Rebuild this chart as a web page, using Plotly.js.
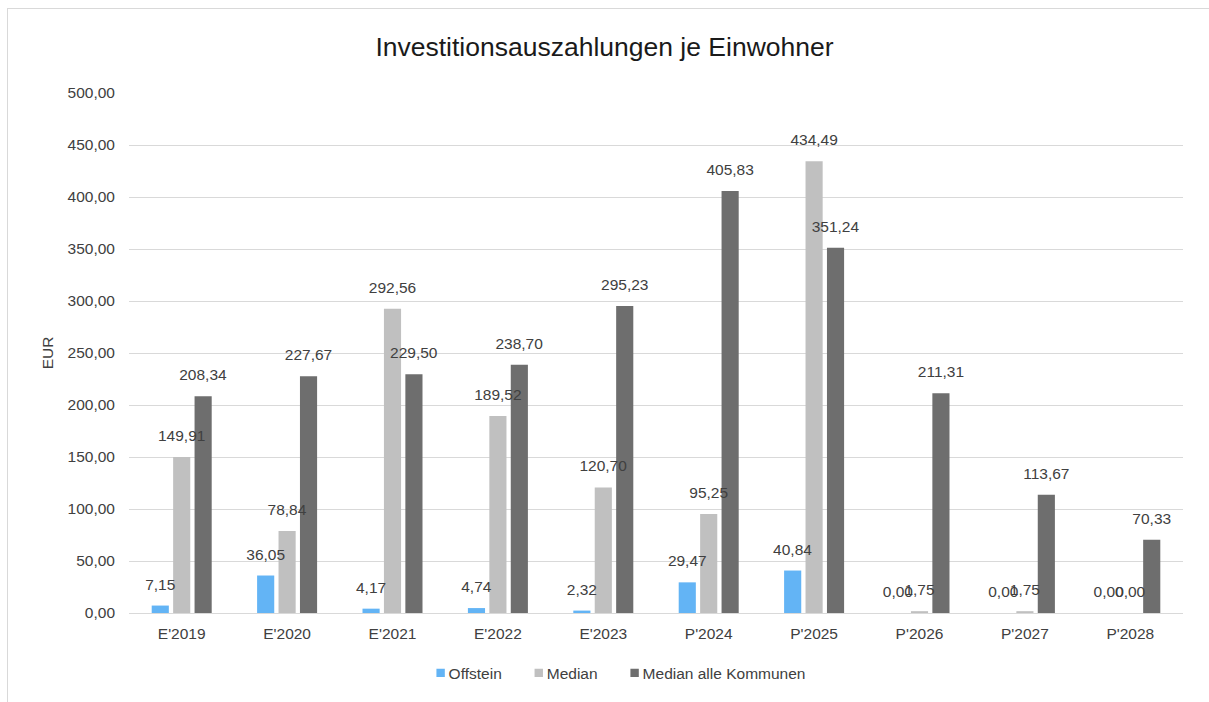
<!DOCTYPE html>
<html>
<head>
<meta charset="utf-8">
<script src="https://cdn.plot.ly/plotly-3.0.1.min.js"></script>
<style>
body { margin: 0; background: #fff; }
#graph { width: 1209px; height: 702px; }
#frame { position: absolute; left: 7px; top: 8px; width: 1300px; height: 800px; border: 1px solid #d9d9d9; pointer-events: none; }
</style>
</head>
<body>
<div id="graph"></div>
<div id="frame"></div>
<script>
var years = ["E'2019", "E'2020", "E'2021", "E'2022", "E'2023", "P'2024", "P'2025", "P'2026", "P'2027", "P'2028"];
var offstein = [7.15, 36.05, 4.17, 4.74, 2.32, 29.47, 40.84, 0.00, 0.00, 0.00];
var median = [149.91, 78.84, 292.56, 189.52, 120.70, 95.25, 434.49, 1.75, 1.75, 0.00];
var medianAlle = [208.34, 227.67, 229.50, 238.70, 295.23, 405.83, 351.24, 211.31, 113.67, 70.33];

var fontFam = 'Liberation Sans, Arial, sans-serif';
var txtColor = '#404040';

function bar(name, y, color) {
    return {
        type: 'bar',
        name: name,
        x: years,
        y: y,
        marker: {color: color},
        texttemplate: '%{y:.2f}',
        textposition: 'outside',
        constraintext: 'none',
        outsidetextfont: {family: fontFam, size: 15.5, color: txtColor},
        cliponaxis: false,
        hoverinfo: 'none'
    };
}

var data = [
    bar('Offstein', offstein, '#63b4f5'),
    bar('Median', median, '#c0c0c0'),
    bar('Median alle Kommunen', medianAlle, '#6e6e6e')
];

var layout = {
    width: 1209,
    height: 702,
    separators: ',.',
    font: {family: fontFam, size: 15.5, color: txtColor},
    paper_bgcolor: '#fff',
    plot_bgcolor: '#fff',
    margin: {l: 129, r: 26, t: 93, b: 85},
    title: {
        text: 'Investitionsauszahlungen je Einwohner',
        font: {size: 26.5, color: '#1a1a1a'},
        x: 0.5, xanchor: 'center',
        y: 1 - 47 / 702, yref: 'container', yanchor: 'middle'
    },
    barmode: 'group',
    bargap: 0.39,
    bargroupgap: 0.2,
    showlegend: true,
    legend: {
        orientation: 'h',
        x: 0.456, xanchor: 'center',
        y: -0.116, yanchor: 'middle',
        font: {size: 15.5, color: txtColor},
        itemwidth: 30,
        traceorder: 'normal'
    },
    xaxis: {
        type: 'category',
        showgrid: false,
        showline: true,
        linecolor: '#d9d9d9',
        linewidth: 1,
        ticks: '',
        ticklabelstandoff: 6,
        tickfont: {size: 15.5, color: txtColor}
    },
    yaxis: {
        title: {text: 'EUR', font: {size: 15.5, color: txtColor}, standoff: 10},
        range: [0, 500],
        dtick: 50,
        tickformat: '.2f',
        showgrid: true,
        gridcolor: '#d9d9d9',
        zeroline: false,
        ticks: '',
        ticklabelstandoff: 13,
        tickfont: {size: 15.5, color: txtColor}
    }
};

Plotly.newPlot('graph', data, layout, {displayModeBar: false, staticPlot: true}).then(function(gd) {
    // labels go on top of all bars (in the original they are never hidden by a bar)
    // and sit a bit higher above the bars
    var layer = gd.querySelector('.barlayer');
    var top = document.createElementNS('http://www.w3.org/2000/svg', 'g');
    layer.appendChild(top);
    gd.querySelectorAll('text.bartext').forEach(function(t) {
        var tr = t.getAttribute('transform') || '';
        t.setAttribute('transform', 'translate(0,-10) ' + tr);
        top.appendChild(t);
    });
    // small legend squares right next to the names
    gd.querySelectorAll('.legend .legendpoints path').forEach(function(p) {
        p.setAttribute('transform', 'translate(32,0) scale(0.7)');
    });
});
</script>
</body>
</html>
